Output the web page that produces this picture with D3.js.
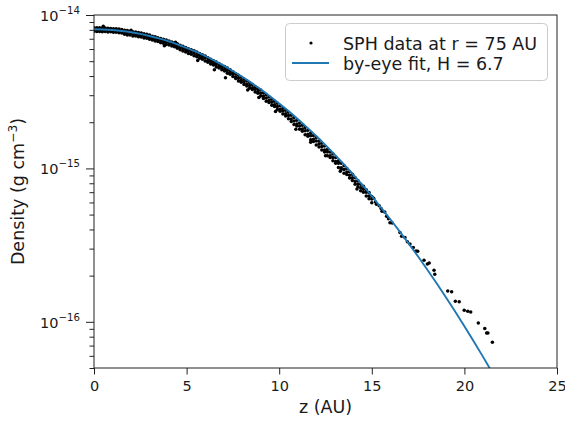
<!DOCTYPE html>
<html><head><meta charset="utf-8">
<script src="https://cdn.jsdelivr.net/npm/d3@7"></script>
<style>
body{margin:0;background:#fff}
svg{display:block}
text{font-family:"DejaVu Sans",sans-serif;fill:#1a1a1a}
</style>
</head><body>
<svg id="chart" width="565" height="423"></svg>
<script>
// ---- data (densities in units of 1e-15 g cm^-3) ----
const zBand = [0,0.15,0.3,0.45,0.6,0.75,0.9,1.05,1.2,1.35,1.5,1.65,1.8,1.95,2.1,2.25,2.4,2.55,2.7,2.85,3,3.15,3.3,3.45,3.6,3.75,3.9,4.05,4.2,4.35,4.5,4.65,4.8,4.95,5.1,5.25,5.4,5.55,5.7,5.85,6,6.15,6.3,6.45,6.6,6.75,6.9,7.05,7.2,7.35,7.5,7.65,7.8,7.95,8.1,8.25,8.4,8.55,8.7,8.85,9,9.15,9.3,9.45,9.6,9.75,9.9,10.05,10.2,10.35,10.5,10.65,10.8,10.95,11.1,11.25,11.4,11.55,11.7,11.85,12,12.15,12.3,12.45,12.6,12.75,12.9,13.05,13.2,13.35,13.5,13.65,13.8,13.95,14.1,14.25,14.4,14.55,14.7,14.85,15];
const rhoBandTop = [8.25,8.27,8.25,8.22,8.22,8.21,8.18,8.13,8.12,8.10,8.05,
 7.95,7.92,7.85,7.79,7.74,7.69,7.62,7.56,7.48,7.40,
 7.28,7.21,7.12,7.03,6.95,6.87,6.77,6.67,6.59,6.50,
 6.34,6.25,6.14,6.03,5.94,5.84,5.73,5.61,5.51,5.41,
 5.26,5.14,5.04,4.94,4.82,4.70,4.61,4.51,4.39,4.27,
 4.14,4.05,3.93,3.82,3.73,3.63,3.52,3.41,3.32,3.24,
 3.11,3.02,2.92,2.82,2.74,2.66,2.56,2.47,2.39,2.32,
 2.22,2.15,2.06,1.98,1.91,1.85,1.77,1.70,1.64,1.59,
 1.51,1.46,1.40,1.33,1.28,1.24,1.18,1.12,1.08,1.04,
 1.00,0.950,0.915,0.868,0.832,0.788,
 0.765,0.726,0.697,0.655];
const rhoBandMid = [8.03,8.02,8.04,8.01,8.00,7.99,7.95,7.94,7.90,7.88,7.82,
 7.71,7.66,7.63,7.56,7.51,7.47,7.38,7.34,7.25,7.19,
 7.06,6.98,6.92,6.82,6.76,6.65,6.58,6.47,6.40,6.29,
 6.14,6.05,5.93,5.85,5.73,5.65,5.53,5.45,5.32,5.24,
 5.06,4.97,4.84,4.76,4.64,4.55,4.43,4.34,4.22,4.13,
 3.96,3.87,3.75,3.67,3.55,3.47,3.36,3.28,3.17,3.09,
 2.96,2.88,2.77,2.70,2.60,2.53,2.43,2.37,2.27,2.21,
 2.10,2.04,1.95,1.89,1.81,1.76,1.67,1.63,1.55,1.51,
 1.44,1.39,1.32,1.28,1.21,1.18,1.11,1.08,1.01,0.985,
 0.949,0.903,0.868,0.822,0.790,0.748,
 0.731,0.699,0.660,0.633];
const rhoBandLow = [7.83,7.80,7.82,7.79,7.80,7.76,7.77,7.72,7.71,7.65,7.64,
 7.48,7.42,7.40,7.31,7.29,7.22,7.18,7.09,7.05,6.95,
 6.86,6.76,6.71,6.60,6.55,6.43,6.38,6.27,6.20,6.08,
 5.93,5.82,5.74,5.61,5.55,5.42,5.35,5.22,5.15,5.02,
 4.92,4.79,4.73,4.58,4.52,4.39,4.31,4.17,4.11,3.98,
 3.85,3.71,3.64,3.52,3.45,3.33,3.27,3.15,3.09,2.96,
 2.86,2.74,2.69,2.58,2.53,2.42,2.36,2.26,2.20,2.11,
 2.02,1.93,1.89,1.80,1.75,1.66,1.62,1.54,1.50,1.42,
 1.38,1.32,1.28,1.21,1.18,1.12,1.08,1.015,0.986,0.929,
 0.914,0.865,0.833,0.787,0.758,0.716,
 0.699,0.660,0.634,0.598];
const zScatter = [0.5,2.0,4.4,3.8,5.6,6.5,7.1,8.3,8.9,9.8,10.9,11.7,12.5,13.3,14.2,
 15.1,15.2,15.25,15.4,15.5,15.55,15.7,15.8,15.9,15.98,16.1,16.52,16.61,16.79,16.92,17.06,17.24,17.39,17.48,17.82,18.0,18.1,18.36,18.4,19.1,19.31,19.51,19.72,19.99,20.18,20.34,20.75,21.1,21.2,21.27,21.51];
const rhoScatter = [8.45,7.95,6.65,6.30,5.05,4.40,3.90,3.25,2.90,2.35,1.80,1.48,1.21,0.96,0.735,
 0.640,0.605,0.585,0.572,0.548,0.525,0.520,0.488,0.470,0.442,0.440,0.382,0.361,0.355,0.332,0.321,0.305,0.290,0.288,0.252,0.238,0.242,0.217,0.204,0.159,0.157,0.136,0.135,0.119,0.117,0.116,0.0984,0.0904,0.0847,0.0847,0.0736];
const zFit = [0,0.5,1,1.5,2,2.5,3,3.5,4,4.5,5,5.5,6,6.5,7,7.5,8,8.5,9,9.5,10,10.5,11,11.5,12,12.5,13,13.5,14,14.5,15,15.5,16,16.5,17,17.5,18,18.5,19,19.5,20,20.5,21,21.5];
const rhoFit = [8.07,8.048,7.980,7.870,7.719,7.527,7.300,7.040,6.752,6.440,6.108,5.762,5.404,5.041,4.676,4.314,3.957,3.609,3.276,2.955,2.651,2.365,2.098,1.851,1.626,1.419,1.231,1.062,0.9106,0.7768,0.6598,0.5556,0.4662,0.3889,0.3229,0.2664,0.2186,0.1783,0.1446,0.1167,0.0936,0.0747,0.0593,0.0468];
const xTickValues = [0,5,10,15,20,25];
const yMajorExponents = [-14,-15,-16];
const unit = 1e-15;
const legendLabels = ["SPH data at r = 75 AU","by-eye fit, H = 6.7"];

// ---- layout ----
const L = 94, R = 557, T = 15, B = 368;
const svg = d3.select("#chart");
const x = d3.scaleLinear().domain([0,25]).range([L,R]);
const y = d3.scaleLog().domain([5e-17,1e-14]).range([B,T]);

svg.append("defs").append("clipPath").attr("id","clip")
  .append("rect").attr("x",L).attr("y",T).attr("width",R-L).attr("height",B-T);

// scatter points
const pts = [];
zBand.forEach((z,i)=>{
  pts.push({z, rho: rhoBandTop[i]*unit});
  pts.push({z, rho: rhoBandMid[i]*unit});
  pts.push({z, rho: rhoBandLow[i]*unit});
});
zScatter.forEach((z,i)=>pts.push({z, rho: rhoScatter[i]*unit}));

svg.append("g").attr("clip-path","url(#clip)")
  .selectAll("circle").data(pts).join("circle")
  .attr("cx",d=>x(d.z)).attr("cy",d=>y(d.rho)).attr("r",1.75).attr("fill","#000");

// fit line
const fitData = zFit.map((z,i)=>({z, rho: rhoFit[i]*unit}));
svg.append("path").datum(fitData).attr("clip-path","url(#clip)")
  .attr("fill","none").attr("stroke","#1f77b4").attr("stroke-width",1.9)
  .attr("d", d3.line().x(d=>x(d.z)).y(d=>y(d.rho)).curve(d3.curveNatural));

// x axis
const gx = svg.append("g").attr("transform",`translate(0,${B})`)
  .call(d3.axisBottom(x).tickValues(xTickValues).tickSize(6.5).tickPadding(6).tickFormat(d3.format("d")));
gx.select(".domain").remove();
gx.selectAll("line").attr("stroke","#222");
gx.selectAll("text").attr("font-size","14.5px").attr("font-family","DejaVu Sans").attr("fill","#1a1a1a");

// y axis major
const majors = yMajorExponents.map(e=>Math.pow(10,e));
const gy = svg.append("g").attr("transform",`translate(${L},0)`)
  .call(d3.axisLeft(y).tickValues(majors).tickSize(8).tickFormat(""));
gy.select(".domain").remove();
gy.selectAll("line").attr("stroke","#222");
// y axis minor
const minors = [];
[-17,-16,-15].forEach(e=>{ for(let k=2;k<=9;k++){ const v=k*Math.pow(10,e); if(v>=5e-17 && v<1e-14) minors.push(v);} });
const gym = svg.append("g").attr("transform",`translate(${L},0)`)
  .call(d3.axisLeft(y).tickValues(minors).tickSize(4.5).tickFormat(""));
gym.select(".domain").remove();
gym.selectAll("line").attr("stroke","#222");

// y tick labels with superscript
yMajorExponents.forEach(e=>{
  const yy = y(Math.pow(10,e));
  const t = svg.append("text").attr("x",80).attr("y",yy+6).attr("text-anchor","end").attr("font-size","14.5px");
  t.append("tspan").text("10");
  t.append("tspan").attr("dy",-7).attr("font-size","10.2px").text("\u2212"+Math.abs(e));
});

// frame
svg.append("rect").attr("x",L).attr("y",T).attr("width",R-L).attr("height",B-T)
  .attr("fill","none").attr("stroke","#222").attr("stroke-width",1);

// axis labels
svg.append("text").attr("x",(L+R)/2).attr("y",413).attr("text-anchor","middle")
  .attr("font-size","17.5px").text("z (AU)");
const yl = svg.append("text").attr("transform",`translate(23.5,${(T+B)/2}) rotate(-90)`)
  .attr("text-anchor","middle").attr("font-size","17.5px");
yl.append("tspan").text("Density (g cm");
yl.append("tspan").attr("dy",-7).attr("font-size","12.3px").text("\u22123");
yl.append("tspan").attr("dy",7).text(")");

// legend
const lg = svg.append("g");
lg.append("rect").attr("x",285.5).attr("y",23.5).attr("width",262).attr("height",57).attr("rx",4)
  .attr("fill","#fff").attr("fill-opacity",0.85).attr("stroke","#cccccc").attr("stroke-width",1);
lg.append("circle").attr("cx",311).attr("cy",43).attr("r",1.6).attr("fill","#000");
lg.append("line").attr("x1",292).attr("x2",329).attr("y1",63).attr("y2",63)
  .attr("stroke","#1f77b4").attr("stroke-width",1.9);
lg.append("text").attr("x",343).attr("y",49.5).attr("font-size","17.5px").text(legendLabels[0]);
lg.append("text").attr("x",343).attr("y",69.5).attr("font-size","17.5px").text(legendLabels[1]);
</script>
</body></html>
